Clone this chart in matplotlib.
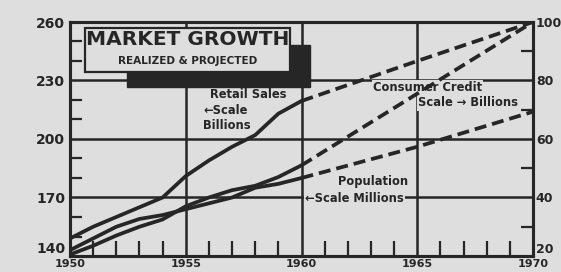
import matplotlib
matplotlib.use("Agg")
import matplotlib.pyplot as plt
from matplotlib.patches import Rectangle

# ---- data ----
years_hist = [1950, 1951, 1952, 1953, 1954, 1955, 1956, 1957, 1958, 1959, 1960]
years_proj = [1960, 1965, 1970]
retail_hist = [149, 155, 160, 165, 170, 181, 189, 196, 202, 213, 219.5]    # left scale, $ billions
retail_proj = [219.5, 240, 260]
population_hist = [143, 149, 155, 159, 161, 164, 167, 170, 175, 177, 180]  # left scale, millions
population_proj = [180, 196, 214]
credit_hist = [20.5, 23.5, 27, 30, 32.5, 37, 40, 42.5, 44, 47, 51]         # right scale, $ billions
credit_proj = [51, 75.5, 100]

left_ticks = [140, 170, 200, 230, 260]
right_ticks = [20, 40, 60, 80, 100]
x_ticks = [1950, 1955, 1960, 1965, 1970]

BG = "#dedede"
INK = "#262626"
W, H = 561, 272
L, R, T, B = 70, 533, 22, 256

fig = plt.figure(figsize=(W / 100, H / 100), dpi=100)
fig.patch.set_facecolor(BG)
ax = fig.add_axes([L / W, (H - B) / H, (R - L) / W, (B - T) / H])
ax.set_facecolor(BG)
ax.set_xlim(1950, 1970)
ax.set_ylim(140, 260)
ax2 = ax.twinx()
ax2.set_ylim(20, 100)

def axf(px, py):
    return ((px - L) / (R - L), (B - py) / (B - T))

# grid and ticks
ax.set_yticks(left_ticks)
ax.set_yticks([v for v in range(140, 261, 10) if v not in left_ticks], minor=True)
ax.set_xticks(x_ticks)
ax.set_xticks([y for y in range(1951, 1970) if y not in x_ticks], minor=True)
ax2.set_yticks(right_ticks)
ax2.set_yticks([30, 50, 70, 90], minor=True)
ax.grid(True, which="major", color=INK, lw=1.8, zorder=1)
ax.set_axisbelow(True)
ax.set_yticklabels([str(v) for v in left_ticks], fontsize=10, fontweight="bold", color=INK)
ax2.set_yticklabels([str(v) for v in right_ticks], fontsize=9, fontweight="bold", color=INK)
ax.set_xticklabels([str(v) for v in x_ticks], fontsize=8, fontweight="bold", color=INK)
# lift the two bottom-corner value labels clear of the year labels
ax.get_yticklabels()[0].set_va("bottom")
ax2.get_yticklabels()[0].set_va("bottom")
ax.tick_params(axis="y", which="major", length=0, pad=3.5)
ax.tick_params(axis="y", which="minor", direction="in", length=8.5, width=1.6, color=INK)
ax.tick_params(axis="x", which="major", length=0, pad=2)
ax.tick_params(axis="x", which="minor", direction="in", length=10.5, width=1.6, color=INK)
ax2.tick_params(axis="y", which="major", length=0, pad=2)
ax2.tick_params(axis="y", which="minor", direction="in", length=8.5, width=1.6, color=INK)
for a in (ax, ax2):
    for s in a.spines.values():
        s.set_linewidth(2.2)
        s.set_color(INK)

# curves
lw = 2.7
dash = (0, (3.2, 1.6))
ax.plot(years_hist, retail_hist, color=INK, lw=lw, solid_capstyle="round", zorder=5)
ax.plot(years_proj, retail_proj, color=INK, lw=lw, ls=dash, zorder=5)
ax.plot(years_hist, population_hist, color=INK, lw=lw, solid_capstyle="round", zorder=5)
ax.plot(years_proj, population_proj, color=INK, lw=lw, ls=dash, zorder=5)
ax2.plot(years_hist, credit_hist, color=INK, lw=lw, solid_capstyle="round", zorder=5)
ax2.plot(years_proj, credit_proj, color=INK, lw=lw, ls=dash, zorder=5)

# title box with drop shadow
x0, y0 = axf(127, 87)
x1, y1 = axf(310, 45)
ax2.add_patch(Rectangle((x0, y0), x1 - x0, y1 - y0, transform=ax2.transAxes,
                        facecolor=INK, edgecolor=INK, zorder=8, clip_on=False))
x0, y0 = axf(85, 72)
x1, y1 = axf(290, 28)
ax2.add_patch(Rectangle((x0, y0), x1 - x0, y1 - y0, transform=ax2.transAxes,
                        facecolor=BG, edgecolor=INK, lw=1.6, zorder=9, clip_on=False))
ax2.text(*axf(188, 40), "MARKET GROWTH", transform=ax2.transAxes, ha="center", va="center",
         fontsize=14.5, fontweight="bold", color=INK, zorder=10)
ax2.text(*axf(188, 61), "REALIZED & PROJECTED", transform=ax2.transAxes, ha="center", va="center",
         fontsize=7.5, fontweight="bold", color=INK, zorder=10)

# annotations
ann = dict(transform=ax2.transAxes, fontsize=8.3, fontweight="bold", color=INK, zorder=4,
           va="center", bbox=dict(boxstyle="square,pad=0.1", fc=BG, ec="none"))
ax2.text(*axf(210, 95), "Retail Sales", ha="left", **ann)
ax2.text(*axf(203, 111), "\u2190Scale", ha="left", **ann)
ax2.text(*axf(203, 126), "Billions", ha="left", **ann)
ax2.text(*axf(373, 88), "Consumer Credit", ha="left", **ann)
ax2.text(*axf(418, 103), "Scale \u2192 Billions", ha="left", **ann)
ax2.text(*axf(338, 182), "Population", ha="left", **ann)
ax2.text(*axf(305, 199), "\u2190Scale Millions", ha="left", **ann)

fig.savefig("out.png", dpi=100, facecolor=BG)
